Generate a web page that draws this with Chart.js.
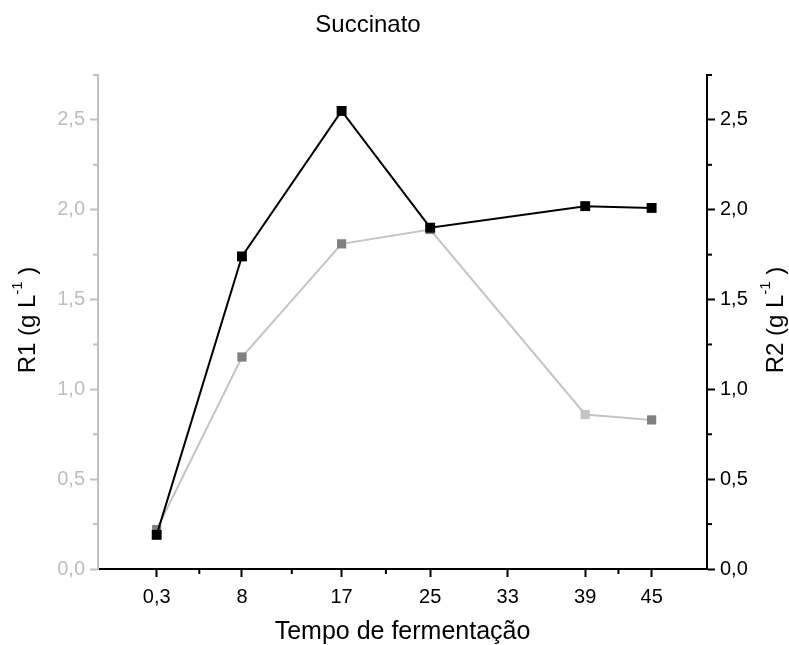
<!DOCTYPE html>
<html><head><meta charset="utf-8">
<script src="https://cdn.jsdelivr.net/npm/chart.js@4/dist/chart.umd.min.js"></script>
<style>html,body{margin:0;padding:0;background:#fff}#wrap{width:789px;height:645px}</style>
</head><body><div id="wrap"><canvas id="c" width="789" height="645"></canvas></div>
<script>
const timeValues = [0.3, 8, 17, 25, 39, 45];
const r1Values = [0.22, 1.18, 1.81, 1.89, 0.86, 0.83];
const r2Values = [0.19, 1.74, 2.55, 1.90, 2.02, 2.01];
const xTickValues = [0.3, 8, 17, 25, 32, 39, 45];
const xTickLabels = ['0,3', '8', '17', '25', '33', '39', '45'];
const xMinorTicks = [4.15, 12.5, 21, 42];
const yTickValues = [0, 0.5, 1, 1.5, 2, 2.5];
const yMinorTicks = [0.25, 0.75, 1.25, 1.75, 2.25, 2.75];
const titleText = 'Succinato';
const xTitle = 'Tempo de fermentação';

const FONT = "'Liberation Sans', Arial, sans-serif";
const greyPointColors = ['#808080', '#808080', '#808080', '#808080', '#c4c4c4', '#808080'];
const fmt = v => v.toFixed(1).replace('.', ',');

function drawYTitle(ctx, x, y, prefix, rot) {
  ctx.save();
  ctx.translate(x, y);
  ctx.rotate(rot);
  const big = '24px ' + FONT, small = '15px ' + FONT;
  ctx.font = big; const w1 = ctx.measureText(prefix + ' (g L').width;
  ctx.font = small; const w2 = ctx.measureText('-1').width;
  ctx.font = big; const w3 = ctx.measureText(' )').width;
  let cx = -(w1 + w2 + w3) / 2;
  ctx.fillStyle = '#000';
  ctx.textBaseline = 'middle';
  ctx.textAlign = 'left';
  ctx.font = big; ctx.fillText(prefix + ' (g L', cx, 0); cx += w1;
  ctx.font = small; ctx.fillText('-1', cx, -10); cx += w2;
  ctx.font = big; ctx.fillText(' )', cx, 0);
  ctx.restore();
}

const decor = {
  id: 'decor',
  afterDraw(chart) {
    const ctx = chart.ctx, a = chart.chartArea;
    const xs = chart.scales.x, yl = chart.scales.y, yr = chart.scales.y2;
    ctx.save();
    ctx.lineWidth = 2;
    ctx.strokeStyle = '#000';
    xMinorTicks.forEach(v => {
      const p = xs.getPixelForValue(v);
      ctx.beginPath(); ctx.moveTo(p, a.bottom); ctx.lineTo(p, a.bottom + 5); ctx.stroke();
    });
    yMinorTicks.forEach(v => {
      const p = yr.getPixelForValue(v);
      ctx.beginPath(); ctx.moveTo(a.right, p); ctx.lineTo(a.right + 5, p); ctx.stroke();
    });
    ctx.strokeStyle = '#c0c0c0';
    yMinorTicks.forEach(v => {
      const p = yl.getPixelForValue(v);
      ctx.beginPath(); ctx.moveTo(a.left, p); ctx.lineTo(a.left - 5, p); ctx.stroke();
    });
    ctx.fillStyle = '#000';
    ctx.textAlign = 'center';
    ctx.textBaseline = 'middle';
    ctx.font = '24px ' + FONT;
    ctx.fillText(titleText, 368, 25);
    ctx.font = '25px ' + FONT;
    ctx.fillText(xTitle, (a.left + a.right) / 2, 632);
    ctx.restore();
    drawYTitle(ctx, 28, 320, 'R1', -Math.PI / 2);
    drawYTitle(ctx, 776, 320, 'R2', -Math.PI / 2);
  }
};

new Chart(document.getElementById('c'), {
  type: 'line',
  data: {
    datasets: [
      {
        label: 'R2',
        data: timeValues.map((t, i) => ({ x: t, y: r2Values[i] })),
        yAxisID: 'y2',
        borderColor: '#000',
        backgroundColor: '#000',
        borderWidth: 2,
        pointStyle: 'rect',
        pointRadius: 7,
        pointBorderWidth: 0,
        pointBackgroundColor: '#000',
        tension: 0
      },
      {
        label: 'R1',
        data: timeValues.map((t, i) => ({ x: t, y: r1Values[i] })),
        yAxisID: 'y',
        borderColor: '#c4c4c4',
        backgroundColor: '#808080',
        borderWidth: 2,
        pointStyle: 'rect',
        pointRadius: 6.5,
        pointBorderWidth: 0,
        pointBackgroundColor: greyPointColors,
        tension: 0
      }
    ]
  },
  options: {
    responsive: false,
    animation: false,
    layout: { padding: { top: 75, left: 0, right: 0, bottom: 0 } },
    plugins: { legend: { display: false }, tooltip: { enabled: false }, title: { display: false } },
    scales: {
      x: {
        type: 'linear', min: -5, max: 50,
        afterBuildTicks: s => { s.ticks = xTickValues.map(v => ({ value: v })); },
        afterFit: s => { s.height = 76; },
        ticks: { callback: (v, i) => xTickLabels[i], color: '#000', font: { size: 20, family: FONT }, padding: 8, maxRotation: 0, autoSkip: false },
        grid: { drawOnChartArea: false, drawTicks: true, tickLength: 8, tickColor: '#000', tickWidth: 2 },
        border: { color: '#000', width: 2 }
      },
      y: {
        type: 'linear', position: 'left', min: 0, max: 2.75,
        afterBuildTicks: s => { s.ticks = yTickValues.map(v => ({ value: v })); },
        afterFit: s => { s.width = 98; },
        ticks: { callback: v => fmt(v), color: '#bdbdbd', font: { size: 20, family: FONT }, padding: 5 },
        grid: { drawOnChartArea: false, drawTicks: true, tickLength: 8, tickColor: '#c0c0c0', tickWidth: 2 },
        border: { color: '#c0c0c0', width: 2 }
      },
      y2: {
        type: 'linear', position: 'right', min: 0, max: 2.75,
        afterBuildTicks: s => { s.ticks = yTickValues.map(v => ({ value: v })); },
        afterFit: s => { s.width = 82; },
        ticks: { callback: v => fmt(v), color: '#000', font: { size: 20, family: FONT }, padding: 5 },
        grid: { drawOnChartArea: false, drawTicks: true, tickLength: 8, tickColor: '#000', tickWidth: 2 },
        border: { color: '#000', width: 2 }
      }
    }
  },
  plugins: [decor]
});
</script></body></html>
